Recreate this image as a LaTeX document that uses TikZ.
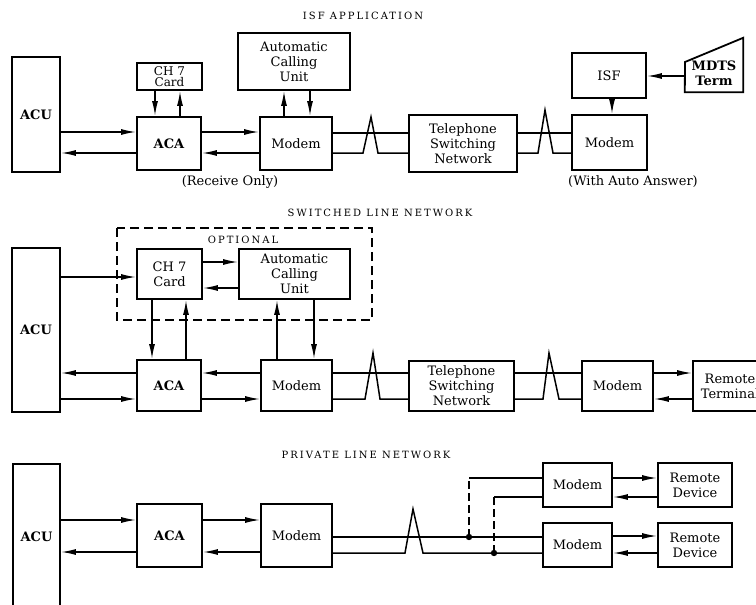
\documentclass[tikz,border=0pt]{standalone}
\usepackage{fontspec}
\setmainfont{DejaVu Serif}
\newfontfamily\ttlfam[LetterSpace=20]{DejaVu Serif}
\usetikzlibrary{arrows.meta}
\newcommand\lblfont{\fontsize{13}{15}\selectfont}
\newcommand\ttlfont{\ttlfam\fontsize{10}{12}\selectfont}
\tikzset{
  box/.style={draw, line width=1.8pt, inner sep=0pt, align=center, font=\lblfont},
  ln/.style={line width=1.5pt},
  arr/.style={ln, -{Latex[length=15pt,width=6pt]}},
  dsh/.style={line width=1.3pt, dash pattern=on 8pt off 4pt},
  ttl/.style={font=\ttlfont, inner sep=0pt},
  note/.style={font=\lblfont, inner sep=0pt},
}
\begin{document}
\begin{tikzpicture}[x=1pt,y=-1pt]
\useasboundingbox (0,0) rectangle (756,605);
\clip (0,0) rectangle (756,605);

% ================= ISF APPLICATION =================
\node[ttl] (t1) at (363,16) {ISF APPLICATION};
\node[box, font=\bfseries\lblfont, minimum width=48, minimum height=115] (acu1) at (36,114.5) {ACU};
\node[box, font=\fontsize{12}{11}\selectfont, minimum width=65, minimum height=27] (ch1) at (169.5,76.5) {CH 7\\Card};
\node[box, font=\bfseries\lblfont, minimum width=64, minimum height=53] (aca1) at (169,143.5) {ACA};
\node[box, minimum width=112, minimum height=57] (acu1u) at (294,61.5) {Automatic\\Calling\\Unit};
\node[box, minimum width=72, minimum height=53] (mod1) at (296,143.5) {Modem};
\node[box, minimum width=108, minimum height=57] (tsn1) at (463,143.5) {Telephone\\Switching\\Network};
\node[box, minimum width=75, minimum height=55] (mod1r) at (609.5,142.5) {Modem};
\node[box, minimum width=74, minimum height=45] (isf) at (609,75.5) {ISF};
\node[inner sep=0pt, minimum width=58, minimum height=54] (mdts) at (714,65) {};
\draw[line width=1.8pt] (mdts.south west) -- (mdts.south east) -- (mdts.north east) -- (685,62) -- cycle;
\node[font=\bfseries\lblfont, align=center, inner sep=0pt] (mdtst) at (714,73) {MDTS\\Term};
\node[note] (rcv) at (230,182) {(Receive Only)};
\node[note] (wan) at (633,182) {(With Auto Answer)};

\draw[arr] (acu1.east |- 0,132) -- (aca1.west |- 0,132);
\draw[arr] (aca1.west |- 0,153) -- (acu1.east |- 0,153);
\draw[arr] (aca1.east |- 0,132) -- (mod1.west |- 0,132);
\draw[arr] (mod1.west |- 0,153) -- (aca1.east |- 0,153);
\draw[arr] (ch1.south -| 155,0) -- (aca1.north -| 155,0);
\draw[arr] (aca1.north -| 180,0) -- (ch1.south -| 180,0);
\draw[arr] (mod1.north -| 284,0) -- (acu1u.south -| 284,0);
\draw[arr] (acu1u.south -| 310,0) -- (mod1.north -| 310,0);
\draw[arr] (isf.south -| 612,0) -- (mod1r.north -| 612,0);
\draw[arr] (mdts.west |- 0,76) -- (isf.east |- 0,76);
\draw[ln] (mod1.east |- 0,133) -- (tsn1.west |- 0,133);
\draw[ln] (mod1.east |- 0,153) -- (363,153) -- (371,117) -- (378,153) -- (tsn1.west |- 0,153);
\draw[ln] (tsn1.east |- 0,133) -- (mod1r.west |- 0,133);
\draw[ln] (tsn1.east |- 0,153) -- (538,153) -- (545,110) -- (553,153) -- (mod1r.west |- 0,153);

% ================= SWITCHED LINE NETWORK =================
\node[ttl] (t2) at (380,213) {SWITCHED LINE NETWORK};
\draw[line width=1.1pt, dash pattern=on 9pt off 5pt] (117,228) rectangle (372,320);
\node[ttl] (opt) at (243,240) {OPTIONAL};
\node[box, font=\bfseries\lblfont, minimum width=48, minimum height=164] (acu2) at (36,330) {ACU};
\node[box, minimum width=65, minimum height=50] (ch2) at (169.5,274) {CH 7\\Card};
\node[box, minimum width=111, minimum height=50] (acu2u) at (294.5,274) {Automatic\\Calling\\Unit};
\node[box, font=\bfseries\lblfont, minimum width=64, minimum height=51] (aca2) at (169,385.5) {ACA};
\node[box, minimum width=71, minimum height=51] (mod2) at (296.5,385.5) {Modem};
\node[box, minimum width=105, minimum height=50] (tsn2) at (461.5,386) {Telephone\\Switching\\Network};
\node[box, minimum width=71, minimum height=50] (mod2r) at (617.5,386) {Modem};
\node[box, minimum width=74, minimum height=50] (rt) at (730,386) {Remote\\Terminal};

\draw[arr] (acu2.east |- 0,277) -- (ch2.west |- 0,277);
\draw[arr] (ch2.east |- 0,262) -- (acu2u.west |- 0,262);
\draw[arr] (acu2u.west |- 0,288) -- (ch2.east |- 0,288);
\draw[arr] (ch2.south -| 152,0) -- (aca2.north -| 152,0);
\draw[arr] (aca2.north -| 186,0) -- (ch2.south -| 186,0);
\draw[arr] (mod2.north -| 277,0) -- (acu2u.south -| 277,0);
\draw[arr] (acu2u.south -| 314,0) -- (mod2.north -| 314,0);
\draw[arr] (aca2.west |- 0,373) -- (acu2.east |- 0,373);
\draw[arr] (acu2.east |- 0,399) -- (aca2.west |- 0,399);
\draw[arr] (mod2.west |- 0,373) -- (aca2.east |- 0,373);
\draw[arr] (aca2.east |- 0,399) -- (mod2.west |- 0,399);
\draw[ln] (mod2.east |- 0,373) -- (tsn2.west |- 0,373);
\draw[ln] (mod2.east |- 0,399) -- (365,399) -- (373,353) -- (380,399) -- (tsn2.west |- 0,399);
\draw[ln] (tsn2.east |- 0,373) -- (mod2r.west |- 0,373);
\draw[ln] (tsn2.east |- 0,399) -- (543,399) -- (549,353) -- (559,399) -- (mod2r.west |- 0,399);
\draw[arr] (mod2r.east |- 0,373) -- (rt.west |- 0,373);
\draw[arr] (rt.west |- 0,399) -- (mod2r.east |- 0,399);

% ================= PRIVATE LINE NETWORK =================
\node[ttl] (t3) at (366,455) {PRIVATE LINE NETWORK};
\node[box, font=\bfseries\lblfont, minimum width=47, minimum height=146] (acu3) at (36.5,537) {ACU};
\node[box, font=\bfseries\lblfont, minimum width=65, minimum height=63] (aca3) at (169.5,535.5) {ACA};
\node[box, minimum width=71, minimum height=63] (mod3) at (296.5,535.5) {Modem};
\node[box, minimum width=69, minimum height=44] (m1) at (577.5,485) {Modem};
\node[box, minimum width=69, minimum height=44] (m2) at (577.5,545) {Modem};
\node[box, minimum width=74, minimum height=44] (rd1) at (695,485) {Remote\\Device};
\node[box, minimum width=74, minimum height=44] (rd2) at (695,545) {Remote\\Device};

\draw[arr] (acu3.east |- 0,520) -- (aca3.west |- 0,520);
\draw[arr] (aca3.west |- 0,552) -- (acu3.east |- 0,552);
\draw[arr] (aca3.east |- 0,520) -- (mod3.west |- 0,520);
\draw[arr] (mod3.west |- 0,552) -- (aca3.east |- 0,552);
\draw[ln] (mod3.east |- 0,537) -- (m2.west |- 0,537);
\draw[ln] (mod3.east |- 0,553) -- (405,553) -- (413,509) -- (423,553) -- (m2.west |- 0,553);
\coordinate (j1) at (469,537);
\coordinate (k1) at (469,478);
\coordinate (j2) at (494,553);
\coordinate (k2) at (494,497);
\draw[dsh] (j1) -- (k1);
\draw[dsh] (j2) -- (k2);
\draw[ln] (k1) -- (m1.west |- k1);
\draw[ln] (k2) -- (m1.west |- k2);
\fill (j1) circle (3.2pt);
\fill (j2) circle (3.2pt);
\draw[arr] (m1.east |- 0,478) -- (rd1.west |- 0,478);
\draw[arr] (rd1.west |- 0,497) -- (m1.east |- 0,497);
\draw[arr] (m2.east |- 0,536) -- (rd2.west |- 0,536);
\draw[arr] (rd2.west |- 0,553) -- (m2.east |- 0,553);
\end{tikzpicture}
\end{document}
